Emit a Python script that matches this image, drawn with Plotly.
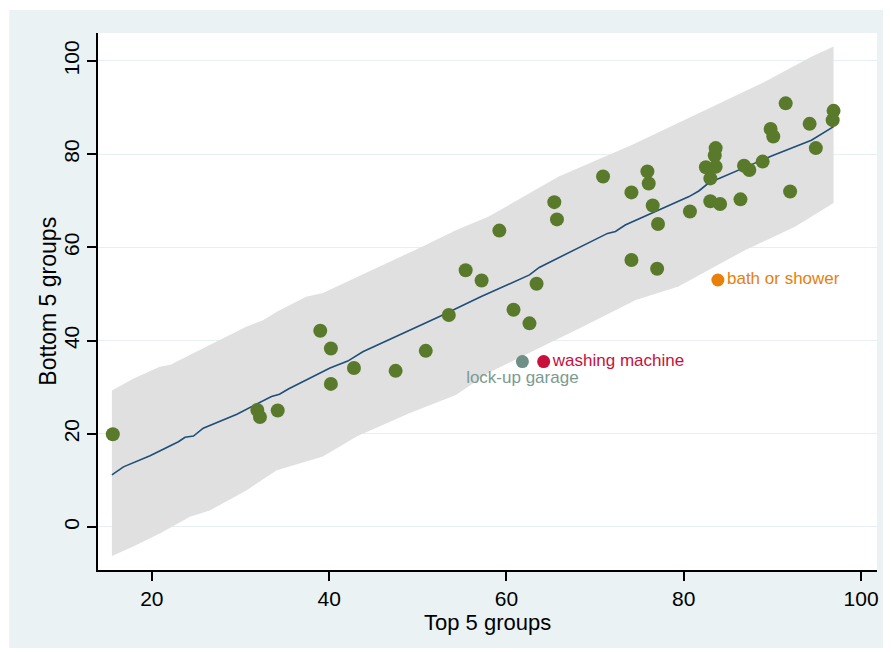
import plotly.graph_objects as go

# ---- data ----
top5 = [15.6, 31.9, 32.2, 34.2, 39.0, 40.2, 40.2, 42.8, 47.5, 50.9, 53.5, 55.4, 57.2,
        59.2, 60.8, 62.6, 63.4, 65.4, 65.7, 70.9, 74.1, 74.1, 75.9, 76.05, 76.5, 77.0,
        77.1, 80.7, 82.5, 83.0, 83.0, 83.5, 83.6, 83.6, 84.1, 86.4, 86.8, 87.4, 88.9,
        89.8, 90.1, 91.5, 92.0, 94.2, 94.9, 96.9, 96.8]
bottom5 = [19.9, 25.1, 23.6, 25.0, 42.1, 38.3, 30.7, 34.1, 33.5, 37.8, 45.5, 55.1, 52.9,
           63.6, 46.6, 43.7, 52.2, 69.7, 66.0, 75.2, 71.8, 57.3, 76.3, 73.7, 69.0, 55.4,
           65.0, 67.7, 77.2, 74.8, 69.9, 79.7, 81.3, 77.3, 69.3, 70.3, 77.5, 76.6, 78.4,
           85.4, 83.8, 90.9, 72.0, 86.5, 81.3, 89.3, 87.3]

label_names = ["bath or shower", "washing machine", "lock-up garage"]
label_x = [83.85, 64.2, 61.8]
label_y = [53.0, 35.5, 35.5]

fit_x = [15.5, 16.8, 19.8, 23.0, 23.75, 24.7, 25.8, 29.6, 33.5, 34.4, 35.4, 40.1, 42.1,
         43.8, 52.4, 57.1, 62.6, 63.7, 71.4, 72.3, 73.4, 80.6, 81.7, 82.8, 89.9, 94.4, 96.9]
fit_y = [11.2, 12.9, 15.3, 18.3, 19.25, 19.5, 21.2, 24.2, 28.0, 28.5, 29.6, 34.1, 35.6,
         37.6, 45.1, 49.4, 54.1, 55.7, 63.0, 63.4, 64.8, 70.9, 72.1, 73.8, 79.6, 83.0, 85.9]

band_up_x = [15.5, 17.9, 20.9, 22.1, 25.4, 27.7, 30.7, 32.6, 34.1, 37.4, 39.3, 50.55,
             54.3, 58.0, 65.9, 74.2, 80.9, 88.8, 94.4, 96.9]
band_up_y = [29.3, 31.8, 34.4, 34.8, 38.0, 40.1, 43.0, 44.4, 46.2, 49.4, 50.2, 60.2,
             63.7, 66.6, 75.2, 82.0, 88.0, 95.2, 100.9, 103.1]
band_lo_x = [15.5, 17.9, 20.9, 24.3, 26.6, 30.7, 34.1, 39.3, 43.1, 49.05, 54.3, 58.0,
             68.2, 74.6, 79.4, 86.9, 92.55, 96.9]
band_lo_y = [-6.2, -4.2, -1.4, 2.2, 3.6, 7.9, 12.2, 15.1, 19.4, 24.4, 28.3, 33.1,
             42.6, 48.7, 51.6, 59.4, 64.4, 69.5]

y_ticks = [0, 20, 40, 60, 80, 100]
x_ticks = [20, 40, 60, 80, 100]

FONT = "Liberation Sans, Arial, sans-serif"
GREEN = "#5a7a2b"
BG = "#eaf2f3"

fig = go.Figure()

# prediction band
fig.add_trace(go.Scatter(
    x=band_up_x + band_lo_x[::-1], y=band_up_y + band_lo_y[::-1],
    fill="toself", fillcolor="#e0e0e0", line=dict(width=0), mode="lines",
    hoverinfo="skip", showlegend=False))

# fitted line
fig.add_trace(go.Scatter(x=fit_x, y=fit_y, mode="lines",
                         line=dict(color="#1f4e79", width=1.6), showlegend=False))

# scatter points
fig.add_trace(go.Scatter(x=top5, y=bottom5, mode="markers",
                         marker=dict(color=GREEN, size=14), showlegend=False))

# highlighted points
colors = ["#e8800a", "#c8103a", "#6e8f86"]
text_colors = ["#e8800a", "#c8103a", "#7a9a90"]
positions = ["middle right", "middle right", "bottom center"]
for i in range(3):
    fig.add_trace(go.Scatter(
        x=[label_x[i]], y=[label_y[i]], mode="markers+text",
        text=[label_names[i]], textposition=positions[i],
        textfont=dict(color=text_colors[i], size=17, family=FONT),
        marker=dict(color=colors[i], size=13), showlegend=False))

# page is offset by the 8px body margin
W, H = 883, 644
L, R, T, B = 90, 12, 25, 82
pw, ph = W - L - R, H - T - B

fig.update_layout(
    width=W, height=H,
    margin=dict(l=L, r=R, t=T, b=B, pad=0),
    paper_bgcolor="white", plot_bgcolor="white",
    font=dict(family=FONT, size=21, color="black"),
    shapes=[
        dict(type="rect", xref="paper", yref="paper", layer="below",
             x0=(1 - L) / pw, x1=(W - L) / pw,
             y0=(H - B - 640) / ph, y1=(H - B - 2) / ph,
             fillcolor=BG, line=dict(width=0)),
        dict(type="rect", xref="paper", yref="paper", layer="below",
             x0=0, x1=1, y0=0, y1=1, fillcolor="white", line=dict(width=0)),
    ],
    annotations=[
        dict(text="Top 5 groups", xref="paper", yref="paper", x=0.5,
             y=(H - B - 614) / ph, xanchor="center", yanchor="middle",
             showarrow=False, font=dict(size=22)),
        dict(text="Bottom 5 groups", xref="paper", yref="paper",
             x=(39 - L) / pw, y=0.5, xanchor="center", yanchor="middle",
             textangle=-90, showarrow=False, font=dict(size=23)),
    ],
    xaxis=dict(range=[13.93, 101.8], tickvals=x_ticks, showgrid=False, zeroline=False,
               showline=True, linecolor="black", linewidth=1.5,
               ticks="outside", ticklen=9, tickwidth=1.5, tickcolor="black"),
    yaxis=dict(range=[-9.23, 106.0], tickvals=y_ticks, showgrid=True, gridcolor="#e6eff1",
               gridwidth=1.2, zeroline=False, tickangle=-90,
               showline=True, linecolor="black", linewidth=1.5,
               ticks="outside", ticklen=9, tickwidth=1.5, tickcolor="black"),
)

fig.write_html("out.html")
